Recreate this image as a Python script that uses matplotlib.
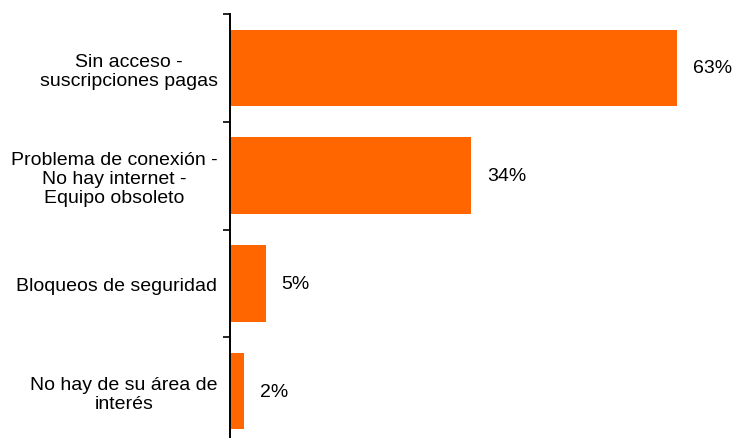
import matplotlib.pyplot as plt
import numpy as np

categories = ['Sin acceso -\nsuscripciones pagas',
              'Problema de conexión -\nNo hay internet -\nEquipo obsoleto',
              'Bloqueos de seguridad',
              'No hay de su área de\ninterés']
values = [63, 34, 5, 2]

plt.rcParams['font.family'] = ['Liberation Sans', 'DejaVu Sans']

fig = plt.figure(figsize=(7.32, 4.39), dpi=100)
# axes run past the bottom edge, like in the original export
ax = fig.add_axes([230 / 732, 1 - 446 / 439, 497 / 732, 431 / 439])

y = np.arange(len(categories))
ax.barh(y, values, height=0.71, color='#FF6600')

for yi, v in zip(y, values):
    ax.annotate(f'{v}%', (v, yi), xytext=(16, 0), textcoords='offset pixels',
                va='center', ha='left', fontsize=14)

ax.set_ylim(len(categories) - 0.5, -0.5)
ax.set_xlim(0, 70)

ax.set_yticks(y)
ax.set_yticklabels(categories, fontsize=14, multialignment='center',
                   linespacing=1.15)
ax.tick_params(axis='y', which='major', length=0, pad=9)
ax.set_yticks(np.arange(-0.5, len(categories), 1), minor=True)
ax.tick_params(axis='y', which='minor', length=5, width=1.2, direction='out')

ax.set_xticks([])
for s in ['top', 'right', 'bottom']:
    ax.spines[s].set_visible(False)
ax.spines['left'].set_linewidth(1.4)

fig.savefig('out.png', dpi=100)
